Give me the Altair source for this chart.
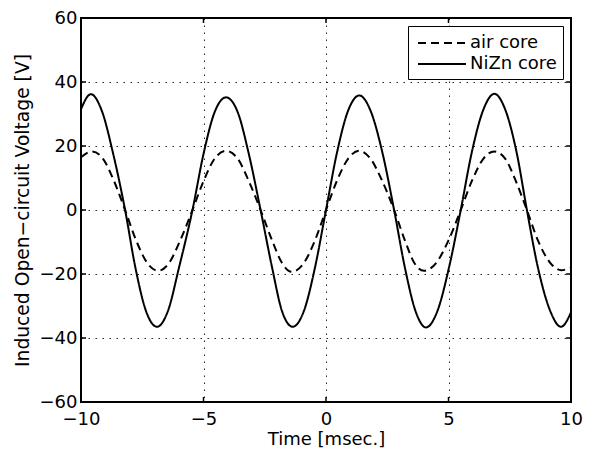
import altair as alt
import pandas as pd

# ---- data ----
nizn_t = [-10.0, -9.6, -9.15, -8.7, -8.2, -7.78, -7.35, -6.9, -6.45, -6.0, -5.45,
          -5.0, -4.55, -4.08, -3.6, -3.15, -2.67, -2.2, -1.8, -1.36, -0.9, -0.45,
          0.0, 0.45, 0.9, 1.36, 1.82, 2.3, 2.78, 3.22, 3.65, 4.08, 4.55, 5.02,
          5.5, 5.95, 6.42, 6.87, 7.32, 7.78, 8.2, 8.65, 9.15, 9.59, 10.0]
nizn_v = [31.5, 36.2, 31.0, 18.0, 0.0, -18.0, -31.5, -36.5, -31.5, -18.0, 0.0,
          17.5, 30.5, 35.2, 30.5, 17.5, 0.0, -18.0, -31.5, -36.5, -31.5, -18.0,
          0.0, 18.0, 31.0, 35.8, 31.0, 18.0, 0.0, -18.0, -31.5, -36.7, -31.5, -18.0,
          0.0, 18.0, 31.3, 36.3, 31.3, 18.0, 0.0, -18.0, -31.5, -36.5, -32.0]

air_t = [-10.0, -9.55, -9.1, -8.65, -8.2, -7.75, -7.3, -6.85, -6.4, -5.95, -5.45,
         -5.0, -4.55, -4.08, -3.6, -3.15, -2.67, -2.2, -1.8, -1.4, -0.9, -0.45,
         0.0, 0.45, 0.9, 1.35, 1.82, 2.3, 2.78, 3.22, 3.6, 4.0, 4.5, 5.0,
         5.5, 5.95, 6.42, 6.87, 7.32, 7.75, 8.2, 8.65, 9.15, 9.6, 10.0]
air_v = [16.5, 18.3, 16.0, 9.0, 0.0, -9.5, -16.5, -19.0, -16.5, -9.5, 0.0,
         9.0, 16.0, 18.5, 16.0, 9.0, 0.0, -9.5, -16.5, -19.3, -16.5, -9.5,
         0.0, 9.2, 16.0, 18.5, 16.0, 9.0, 0.0, -9.5, -16.5, -19.0, -16.5, -9.5,
         0.0, 9.0, 16.0, 18.3, 16.0, 9.0, 0.0, -9.5, -16.5, -18.8, -18.0]

series_names = ["air core", "NiZn core"]
x_ticks = [-10, -5, 0, 5, 10]
y_ticks = [-60, -40, -20, 0, 20, 40, 60]

df = pd.concat([
    pd.DataFrame({"x": air_t, "y": air_v, "series": series_names[0]}),
    pd.DataFrame({"x": nizn_t, "y": nizn_v, "series": series_names[1]}),
])
xt = pd.DataFrame({"x": x_ticks})
yt = pd.DataFrame({"y": y_ticks})

W, H = 490, 384
FONT = "DejaVu Sans"

xenc = alt.X("x:Q", scale=alt.Scale(domain=[-10, 10], nice=False, zero=False),
             axis=alt.Axis(values=x_ticks, title="Time [msec.]", labelPadding=8,
                           titlePadding=2, labelFlush=False, labelOverlap=False,
                           format="d"))
yenc = alt.Y("y:Q", scale=alt.Scale(domain=[-60, 60], nice=False, zero=False),
             axis=alt.Axis(values=y_ticks, title="Induced Open\u2212circuit Voltage [V]",
                           labelPadding=4, titlePadding=7, labelOverlap=False,
                           titleFontSize=18.7, format="d"))

lines = alt.Chart(df).mark_line(strokeWidth=2, color="black", interpolate="monotone").encode(
    x=xenc, y=yenc,
    strokeDash=alt.StrokeDash("series:N",
                              scale=alt.Scale(domain=series_names, range=[[8, 5], [1, 0]]),
                              legend=alt.Legend(title=None, orient="top-right", offset=8,
                                                symbolType="M-0.7,0H4.1", symbolSize=400,
                                                symbolStrokeWidth=2, symbolStrokeColor="black",
                                                symbolFillColor="transparent",
                                                labelFont=FONT, labelFontSize=18,
                                                labelColor="black", labelOffset=34,
                                                strokeColor="black", fillColor="white",
                                                padding=6, rowPadding=1)),
)

tick_style = dict(color="black", strokeWidth=1.5)
tb = alt.Chart(xt).mark_rule(**tick_style).encode(x=xenc, y=alt.value(H), y2=alt.value(H - 5))
tt = alt.Chart(xt).mark_rule(**tick_style).encode(x=xenc, y=alt.value(0), y2=alt.value(5))
tl = alt.Chart(yt).mark_rule(**tick_style).encode(y=yenc, x=alt.value(0), x2=alt.value(5))
tr = alt.Chart(yt).mark_rule(**tick_style).encode(y=yenc, x=alt.value(W), x2=alt.value(W - 5))

chart = alt.layer(lines, tb, tt, tl, tr).properties(
    width=W, height=H,
    background="white",
    autosize=alt.AutoSizeParams(type="none"),
    padding={"left": 73, "top": 10, "right": 15, "bottom": 50},
).configure_view(stroke="black", strokeWidth=2).configure_axis(
    labelFont=FONT, labelFontSize=18, labelColor="black",
    titleFont=FONT, titleFontSize=18, titleFontWeight="normal", titleColor="black",
    domain=False, ticks=False, grid=True,
    gridColor="black", gridDash=[1.5, 5.5], gridWidth=1, gridOpacity=0.85,
)

chart.save("out.html", embed_options={"renderer": "svg", "actions": False})
